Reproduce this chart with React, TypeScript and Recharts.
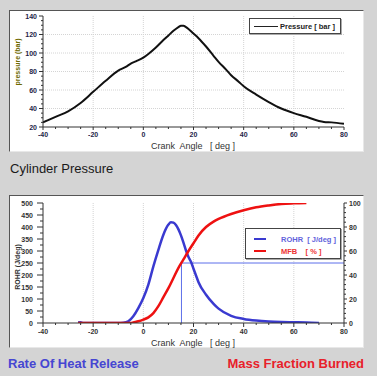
import React from 'react';
import { LineChart, Line, XAxis, YAxis, CartesianGrid, Legend, ReferenceLine } from 'recharts';

// ---- Cylinder pressure ----
const pressureAngles = [-40, -35, -30, -25, -20, -15, -10, -7, -5, -3, 0, 2, 5, 8, 10, 12, 14, 15, 16, 17, 18, 20, 22, 25, 28, 30, 33, 35, 38, 40, 45, 50, 55, 60, 65, 70, 72, 75, 80];
const pressureValues = [25, 31, 37, 46, 58, 70, 81, 85, 88.5, 91, 95, 99, 106, 114, 119, 124, 128, 129.5, 129.5, 128, 126, 121, 116, 107, 97, 90.5, 82, 76, 69, 64, 55, 47, 40, 35, 31, 26.5, 25.5, 25, 23.5];

// ---- Rate of heat release ----
const rohrAngles = [-26, -25, -24, -20, -10, -8, -6, -4, -2, 0, 2, 4, 6, 8, 10, 11, 12, 13, 14, 15, 16, 17, 18, 19, 20, 21, 22, 25, 28, 30, 35, 40, 45, 50, 55, 60, 65, 70];
const rohrValues = [2, 3, 0, 0, 0, 1, 7, 28, 62, 104, 160, 236, 305, 368, 410, 420, 418, 408, 390, 365, 335, 302, 275, 255, 226, 198, 170, 118, 80, 60, 30, 17, 10, 6, 4, 3, 2, 0];

// ---- Mass fraction burned ----
const mfbAngles = [-26, -20, -10, -5, -4, -2, 0, 2, 4, 6, 8, 10, 12, 14, 16, 18, 20, 22, 25, 28, 30, 35, 40, 45, 50, 55, 60, 65];
const mfbValues = [0, 0, 0, 0, 0.5, 1.4, 2.8, 4.7, 8.3, 14, 21.5, 29, 37.5, 46, 53, 60, 66.5, 73, 80, 84.5, 86.7, 90.8, 93.9, 96.4, 98, 99.2, 99.7, 100];
const mfb50Angle = 15.2;
const mfb50Value = 50;

// ---- ticks ----
const range = (a: number, b: number, s: number) => { const r: number[] = []; for (let v = a; v <= b + 1e-9; v += s) r.push(v); return r; };
const angleTicks = range(-40, 80, 5);
const angleGrid = [-20, 0, 20, 40, 60];
const pressureTicks = range(20, 140, 5);
const pressureGrid = [40, 60, 80, 100, 120];
const rohrTicks = range(0, 500, 25);
const rohrGrid = [100, 200, 300, 400];
const mfbTicks = range(0, 100, 4);

const pressureData = pressureAngles.map((a, i) => ({ a, v: pressureValues[i] }));
const rohrData = rohrAngles.map((a, i) => ({ a, v: rohrValues[i] }));
const mfbData = mfbAngles.map((a, i) => ({ a, v: mfbValues[i] }));

const FONT = '"Liberation Sans", Arial, sans-serif';

type TickOpts = { side: 'left' | 'right' | 'bottom'; major: number; majorLen: number; minorLen: number; gap: number; color: string };
function makeTick(o: TickOpts) {
  return (props: any) => {
    const { x, y, payload } = props;
    const v = payload.value as number;
    const isMajor = Math.abs(v / o.major - Math.round(v / o.major)) < 1e-6;
    const len = isMajor ? o.majorLen : o.minorLen;
    const textProps = { fontFamily: FONT, fontSize: 7, fontWeight: 700, fill: o.color } as any;
    if (o.side === 'bottom') {
      return (
        <g>
          <line x1={x} x2={x} y1={y} y2={y + len} stroke="#333" />
          {isMajor && <text x={x} y={y + len + o.gap} dy="0.72em" textAnchor="middle" {...textProps}>{String(v)}</text>}
        </g>
      );
    }
    if (o.side === 'left') {
      return (
        <g>
          <line x1={x} x2={x - len} y1={y} y2={y} stroke="#333" />
          {isMajor && <text x={x - len - o.gap} y={y} dy="0.36em" textAnchor="end" {...textProps}>{String(v)}</text>}
        </g>
      );
    }
    return (
      <g>
        <line x1={x} x2={x + len} y1={y} y2={y} stroke="#333" />
        {isMajor && <text x={x + len + o.gap} y={y} dy="0.36em" textAnchor="start" {...textProps}>{String(v)}</text>}
      </g>
    );
  };
}

const abs = (extra: React.CSSProperties): React.CSSProperties => ({ position: 'absolute', whiteSpace: 'nowrap', lineHeight: 1, fontFamily: FONT, ...extra });

const PressureLegend = () => (
  <div style={{ width: 92, height: 16, boxSizing: 'border-box', border: '1px solid #444', boxShadow: '1px 1px 0 #aaa', background: '#fff', position: 'relative', fontFamily: FONT }}>
    <div style={{ position: 'absolute', left: 4, top: 7, width: 24, height: 0, borderTop: '1px solid #222' }} />
    <div style={{ position: 'absolute', left: 30, top: 3, fontSize: 7.5, fontWeight: 700, color: '#222', whiteSpace: 'nowrap' }}>Pressure [ bar ]</div>
  </div>
);

const HeatLegend = () => (
  <div style={{ width: 96, height: 31, boxSizing: 'border-box', border: '1px solid #444', boxShadow: '1px 1px 0 #aaa', background: '#fff', position: 'relative', fontFamily: FONT }}>
    <div style={{ position: 'absolute', left: 8, top: 9, width: 12, height: 0, borderTop: '2px solid #3a3ad0' }} />
    <div style={{ position: 'absolute', left: 35, top: 6, fontSize: 7.5, fontWeight: 700, color: '#6262dc', whiteSpace: 'pre' }}>{'ROHR  [ J/deg ]'}</div>
    <div style={{ position: 'absolute', left: 8, top: 21, width: 12, height: 0, borderTop: '2px solid #ee1111' }} />
    <div style={{ position: 'absolute', left: 35, top: 18, fontSize: 7.5, fontWeight: 700, color: '#ee3333', whiteSpace: 'pre' }}>{'MFB    [ % ]'}</div>
  </div>
);

export default function App() {
  return (
    <div style={{ position: 'absolute', left: 0, top: 0, width: 377, height: 376, background: '#d4d4d4', overflow: 'hidden', fontFamily: FONT }}>
      {/* top panel */}
      <div style={{ position: 'absolute', left: 9, top: 10, width: 355, height: 142, boxSizing: 'border-box', background: '#fff', borderStyle: 'solid', borderWidth: 1, borderColor: '#555 #e8e8e8 #e8e8e8 #555' }} />
      <div style={{ position: 'absolute', left: 0, top: 0 }}>
        <LineChart width={377} height={160} margin={{ top: 16, right: 33, bottom: 13, left: 13 }}>
          <CartesianGrid stroke="#d4d4d4" strokeDasharray="1 1" horizontalValues={pressureGrid} verticalValues={angleGrid} />
          <XAxis dataKey="a" type="number" domain={[-40, 80]} ticks={angleTicks} interval={0} height={20} tickSize={0} tickMargin={0} tickLine={false} axisLine={{ stroke: '#333' }} tick={makeTick({ side: 'bottom', major: 20, majorLen: 3, minorLen: 2, gap: 2, color: '#1e1e48' })} allowDataOverflow />
          <XAxis xAxisId="top" orientation="top" dataKey="a" type="number" domain={[-40, 80]} height={0} tick={false} tickLine={false} axisLine={{ stroke: '#333' }} />
          <YAxis type="number" domain={[20, 140]} ticks={pressureTicks} interval={0} width={30} tickSize={0} tickMargin={0} tickLine={false} axisLine={{ stroke: '#333' }} tick={makeTick({ side: 'left', major: 20, majorLen: 4, minorLen: 2, gap: 2, color: '#1e1e48' })} allowDataOverflow />
          <YAxis yAxisId="r" orientation="right" domain={[20, 140]} width={0} tick={false} tickLine={false} axisLine={{ stroke: '#333' }} />
          <Legend layout="horizontal" verticalAlign="middle" align="center" content={() => <PressureLegend />} wrapperStyle={{ left: 249, top: 18, width: 92, height: 16 }} />
          <Line data={pressureData} dataKey="v" name="Pressure [ bar ]" type="monotone" stroke="#111" strokeWidth={2} dot={false} isAnimationActive={false} />
        </LineChart>
      </div>
      <div style={abs({ left: 17, top: 62, transform: 'translate(-50%,-50%) rotate(-90deg)', fontSize: 7, fontWeight: 700, color: '#6e6a00' })}>pressure (bar)</div>
      <div style={abs({ left: 193, top: 146, transform: 'translate(-50%,-50%)', fontSize: 9, color: '#333', whiteSpace: 'pre' })}>{'Crank  Angle   [ deg ]'}</div>
      <div style={abs({ left: 10, top: 168, transform: 'translateY(-50%)', fontSize: 13, color: '#1a1a1a' })}>Cylinder Pressure</div>

      {/* bottom panel */}
      <div style={{ position: 'absolute', left: 9, top: 195, width: 355, height: 153, boxSizing: 'border-box', background: '#fff', borderStyle: 'solid', borderWidth: 1, borderColor: '#555 #e8e8e8 #e8e8e8 #555' }} />
      <div style={{ position: 'absolute', left: 0, top: 160 }}>
        <LineChart width={377} height={200} margin={{ top: 43, right: 3, bottom: 17, left: 13 }}>
          <CartesianGrid stroke="#d4d4d4" strokeDasharray="1 1" horizontalValues={rohrGrid} verticalValues={angleGrid} />
          <XAxis dataKey="a" type="number" domain={[-40, 80]} ticks={angleTicks} interval={0} height={20} tickSize={0} tickMargin={0} tickLine={false} axisLine={{ stroke: '#333' }} tick={makeTick({ side: 'bottom', major: 20, majorLen: 4, minorLen: 2, gap: 2, color: '#333' })} allowDataOverflow />
          <XAxis xAxisId="top" orientation="top" dataKey="a" type="number" domain={[-40, 80]} height={0} tick={false} tickLine={false} axisLine={{ stroke: '#333' }} />
          <YAxis yAxisId="left" type="number" domain={[0, 500]} ticks={rohrTicks} interval={0} width={30} tickSize={0} tickMargin={0} tickLine={false} axisLine={{ stroke: '#333' }} tick={makeTick({ side: 'left', major: 50, majorLen: 6, minorLen: 3, gap: 4, color: '#333' })} allowDataOverflow />
          <YAxis yAxisId="right" orientation="right" type="number" domain={[0, 100]} ticks={mfbTicks} interval={0} width={30} tickSize={0} tickMargin={0} tickLine={false} axisLine={{ stroke: '#333' }} tick={makeTick({ side: 'right', major: 20, majorLen: 3, minorLen: 2, gap: 2, color: '#333' })} allowDataOverflow />
          <ReferenceLine yAxisId="right" segment={[{ x: mfb50Angle, y: mfb50Value }, { x: 80, y: mfb50Value }]} stroke="#5c6fea" strokeWidth={1} ifOverflow="visible" />
          <ReferenceLine yAxisId="right" segment={[{ x: mfb50Angle, y: 0 }, { x: mfb50Angle, y: mfb50Value }]} stroke="#5c6fea" strokeWidth={1} ifOverflow="visible" />
          <Legend layout="horizontal" verticalAlign="middle" align="center" content={() => <HeatLegend />} wrapperStyle={{ left: 245, top: 68, width: 96, height: 31 }} />
          <Line yAxisId="left" data={rohrData} dataKey="v" name="ROHR [ J/deg ]" type="monotone" stroke="#3a3ad0" strokeWidth={2.5} dot={false} isAnimationActive={false} />
          <Line yAxisId="right" data={mfbData} dataKey="v" name="MFB [ % ]" type="monotone" stroke="#ee1111" strokeWidth={2.5} dot={false} isAnimationActive={false} />
        </LineChart>
      </div>
      <div style={abs({ left: 17, top: 267, transform: 'translate(-50%,-50%) rotate(-90deg)', fontSize: 7, fontWeight: 700, color: '#333' })}>ROHR (J/deg)</div>
      <div style={abs({ left: 193, top: 343, transform: 'translate(-50%,-50%)', fontSize: 9, color: '#333', whiteSpace: 'pre' })}>{'Crank  Angle   [ deg ]'}</div>
      <div style={abs({ left: 8, top: 363, transform: 'translateY(-50%)', fontSize: 13, fontWeight: 700, color: '#4646d2' })}>Rate Of Heat Release</div>
      <div style={abs({ right: 13, top: 363, transform: 'translateY(-50%)', fontSize: 13, fontWeight: 700, color: '#e8202a' })}>Mass Fraction Burned</div>
    </div>
  );
}
